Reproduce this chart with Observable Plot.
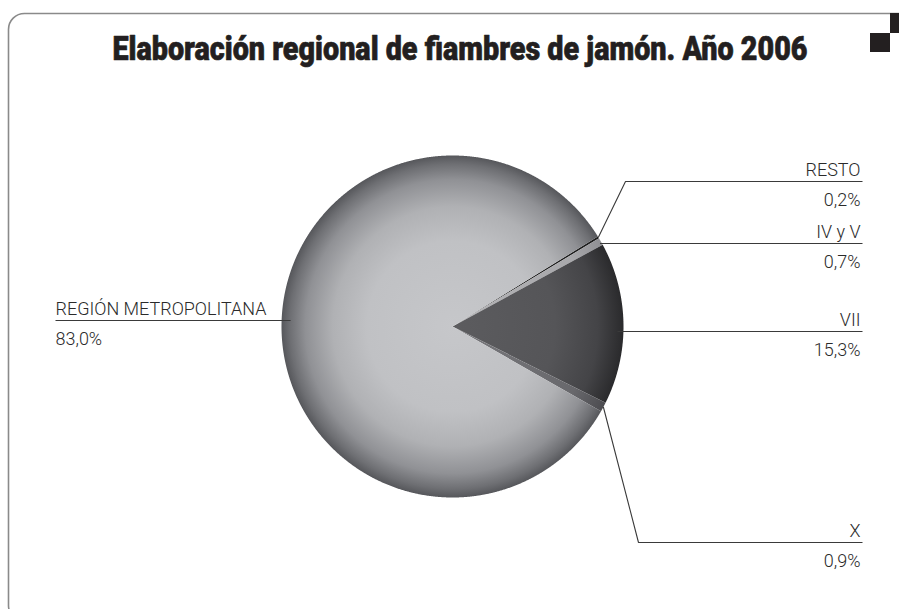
<!DOCTYPE html>
<html><head><meta charset="utf-8">
<script src="https://cdn.jsdelivr.net/npm/d3@7"></script>
<script src="https://cdn.jsdelivr.net/npm/@observablehq/plot@0.6"></script>
<style>html,body{margin:0;padding:0;background:#fff;overflow:hidden}</style>
</head><body><div id="chart"></div>
<script>
// ---- data ----
const title = "Elaboración regional de fiambres de jamón. Año 2006";
const regions = ["RESTO", "IV y V", "VII", "X", "REGIÓN METROPOLITANA"];
const shares = [0.2, 0.7, 15.3, 0.9, 83.0];

// ---- layout / style (not data) ----
const W = 899, H = 609, CX = 452, CY = 326, R = 171;
const START = 58.2 * Math.PI / 180;
const fills = ["#1e1e1e", "url(#gIV)", "url(#gVII)", "url(#gX)", "url(#gRM)"];
const labelLayout = [
  {lineY: 181, elbowX: 625, side: "right"},
  {lineY: 243, side: "right", inset: 2},
  {lineY: 331, side: "right", inset: 6},
  {lineY: 542, elbowX: 638, side: "right"},
  {lineY: 320, side: "left", inset: 9}
];
const RIGHT_X = 860, LINE_END_R = 862, LEFT_X = 55;

const fmt = v => d3.format(".1f")(v).replace(".", ",") + "%";

// pie geometry from data
const arcs = d3.pie().sort(null).startAngle(START).endAngle(START + 2 * Math.PI)(shares);
const polar = (a, r = R) => [CX + r * Math.sin(a), CY - r * Math.cos(a)];
const slicePts = [];
arcs.forEach((a, i) => {
  const n = Math.max(4, Math.ceil((a.endAngle - a.startAngle) / 0.004));
  slicePts.push({key: regions[i], fill: fills[i], x: CX, y: CY});
  for (let k = 0; k <= n; k++) {
    const t = a.startAngle + (a.endAngle - a.startAngle) * k / n;
    const [x, y] = polar(t);
    slicePts.push({key: regions[i], fill: fills[i], x, y});
  }
  slicePts.push({key: regions[i], fill: fills[i], x: CX, y: CY});
});

// leader lines
const leaderPts = [];
const labels = [];
arcs.forEach((a, i) => {
  const L = labelLayout[i];
  const mid = (a.startAngle + a.endAngle) / 2;
  let start;
  if (L.elbowX != null) {
    start = polar(mid);
  } else {
    const dy = L.lineY - CY;
    const dx = Math.sqrt(R * R - dy * dy) - (L.inset || 0);
    start = [L.side === "right" ? CX + dx : CX - dx, L.lineY];
  }
  const pts = [start];
  if (L.elbowX != null) pts.push([L.elbowX, L.lineY]);
  pts.push([L.side === "right" ? LINE_END_R : LEFT_X, L.lineY]);
  pts.forEach(([x, y]) => leaderPts.push({key: regions[i], x, y}));
  const tx = L.side === "right" ? RIGHT_X : LEFT_X;
  const anchor = L.side === "right" ? "end" : "start";
  labels.push({text: regions[i], x: tx, y: L.lineY - 6, anchor});
  labels.push({text: fmt(shares[i]), x: tx, y: L.lineY + 24, anchor});
});

const labelFont = "Roboto, 'Liberation Sans', sans-serif";
const chart = Plot.plot({
  width: W, height: H,
  margin: 0,
  x: {domain: [0, W], range: [0, W], axis: null},
  y: {domain: [0, H], range: [0, H], axis: null},
  color: {type: "identity"},
  marks: [
    Plot.frame({stroke: "#8a8a8a", strokeWidth: 1.6, rx: 16, insetLeft: 8, insetTop: 13, insetRight: -30, insetBottom: -12}),
    Plot.line(slicePts, {x: "x", y: "y", z: "key", fill: "fill", stroke: "none", curve: "linear"}),
    Plot.line(leaderPts, {x: "x", y: "y", z: "key", stroke: "#3a3a3a", strokeWidth: 1.1, strokeLinecap: "butt", strokeLinejoin: "miter"}),
    Plot.text(labels.filter(d => d.anchor === "end"), {x: "x", y: "y", text: "text", textAnchor: "end", lineAnchor: "bottom", fontSize: 19, fontWeight: 300, fontFamily: labelFont, fill: "#2a2a2a"}),
    Plot.text(labels.filter(d => d.anchor === "start"), {x: "x", y: "y", text: "text", textAnchor: "start", lineAnchor: "bottom", fontSize: 19, fontWeight: 300, fontFamily: labelFont, fill: "#2a2a2a"}),
    Plot.text([title], {x: () => 459.5, y: () => 59, text: d => d, textAnchor: "middle", lineAnchor: "bottom", fontSize: 30, fontWeight: 900, fontFamily: "Roboto, 'Liberation Sans', sans-serif", fill: "#231f20", stroke: "#231f20", strokeWidth: 0.6})
  ]
});

// gradients
const svg = d3.select(chart);
const defs = svg.insert("defs", ":first-child");
function grad(id, stops) {
  const g = defs.append("radialGradient").attr("id", id).attr("gradientUnits", "userSpaceOnUse")
    .attr("cx", CX).attr("cy", CY).attr("r", R).attr("fx", CX).attr("fy", CY);
  stops.forEach(([o, c]) => g.append("stop").attr("offset", o).attr("stop-color", c));
}
grad("gRM", [[0, "#c6c7ca"], [0.5, "#c0c1c4"], [0.7, "#b0b1b4"], [0.86, "#909195"], [0.95, "#6e6f73"], [1, "#56575b"]]);
grad("gVII", [[0, "#5c5c5f"], [0.6, "#555558"], [0.85, "#444447"], [1, "#2a2a2c"]]);
grad("gX", [[0, "#78787c"], [0.8, "#68686c"], [1, "#4c4c50"]]);
grad("gIV", [[0, "#b4b4b7"], [0.8, "#a8a8ab"], [1, "#909094"]]);

// decorative squares top-right
svg.append("rect").attr("x", 890).attr("y", 13).attr("width", 10).attr("height", 20).attr("fill", "#231f20");
svg.append("rect").attr("x", 870).attr("y", 33).attr("width", 20).attr("height", 19).attr("fill", "#231f20");

document.getElementById("chart").appendChild(chart);

// condensed typography
let k = 1;
svg.selectAll("text").each(function () {
  if (this.textContent === "REGIÓN METROPOLITANA") k = 211 / this.getComputedTextLength();
});
svg.selectAll("text").each(function () {
  const len = this.getComputedTextLength();
  if (this.textContent === title) {
    const t = this.getAttribute("transform") || "";
    d3.select(this).attr("textLength", 695).attr("lengthAdjust", "spacingAndGlyphs")
      .attr("transform", t + " scale(1,1.08)");
  } else {
    d3.select(this).attr("textLength", len * k).attr("lengthAdjust", "spacingAndGlyphs");
  }
});
</script>
</body></html>
